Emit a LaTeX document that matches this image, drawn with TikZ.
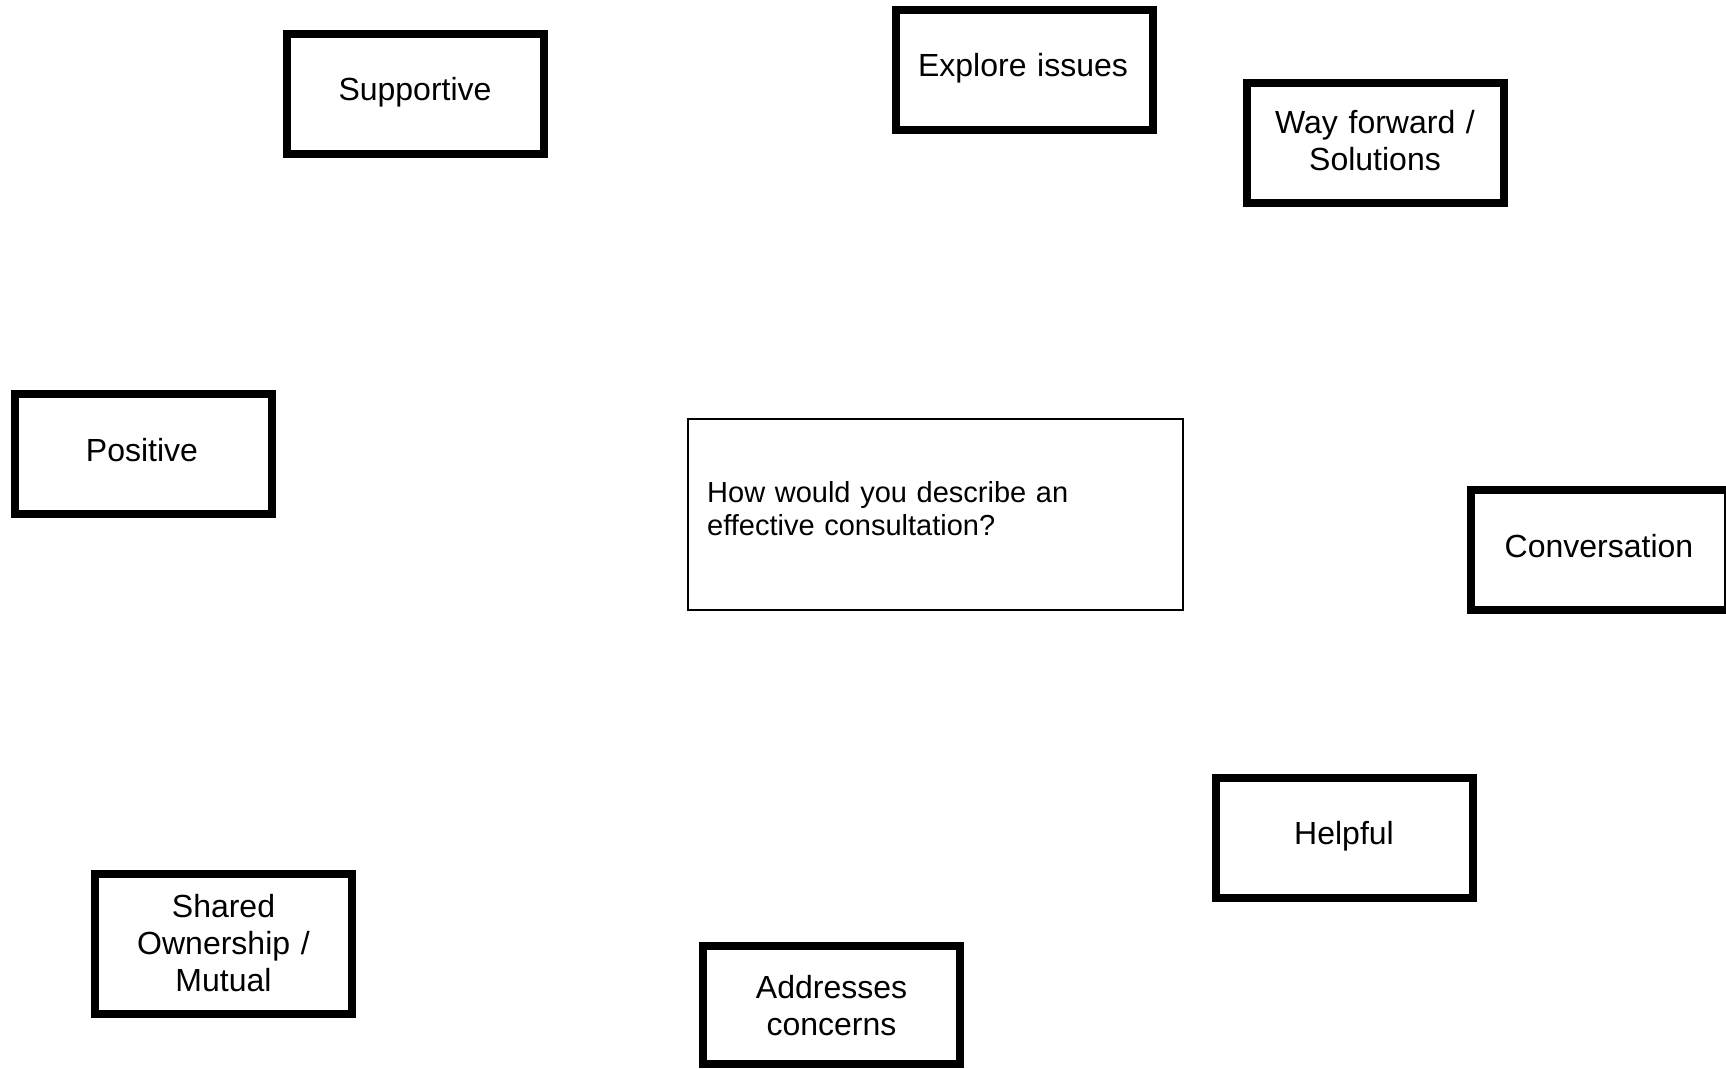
\documentclass[tikz,border=0pt]{standalone}
\usepackage{fontspec}
\setmainfont{Liberation Sans}
\begin{document}
\begin{tikzpicture}[x=1pt,y=-1pt,
  box/.style={draw=black,line width=8pt,fill=white,minimum width=257pt,minimum height=120pt,inner sep=0pt,anchor=center},
  lbl/.style={text width=250pt,align=center,inner sep=0pt,anchor=base,font=\fontsize{32}{37}\selectfont},
  qbox/.style={draw=black,line width=2pt,fill=white,minimum width=495pt,minimum height=191pt,inner sep=0pt,anchor=center},
  qlbl/.style={text width=460pt,align=left,inner sep=0pt,anchor=base west,font=\fontsize{29}{33.5}\selectfont}]
\useasboundingbox (0,0) rectangle (1726,1068);
\fill[white] (0,0) rectangle (1726,1068);
% boxes
\node[box] (sup) at (415,94) {};
\node[box] (exp) at (1024.5,70) {};
\node[box] (way) at (1375.5,142.5) {};
\node[box] (pos) at (143.5,454) {};
\node[qbox] (q) at (935,514.5) {};
\node[box] (con) at (1599.5,550) {};
\node[box] (hel) at (1344,837.5) {};
\node[box,minimum height=140pt] (sha) at (223.5,944) {};
\node[box,minimum height=118pt] (add) at (831.5,1005) {};
% labels
\node[lbl] (supT) at (415,100) {Supportive};
\node[lbl] (expT) at (1023,76) {Explore issues};
\node[lbl] (wayT) at (1375,133) {Way forward /\\Solutions};
\node[lbl] (posT) at (142,461) {Positive};
\node[qlbl] (qT) at (707,502) {How would you describe an\\effective consultation?};
\node[lbl] (conT) at (1599,557) {Conversation};
\node[lbl] (helT) at (1344,844) {Helpful};
\node[lbl] (shaT) at (223.5,917) {Shared\\Ownership /\\Mutual};
\node[lbl] (addT) at (831.5,998) {Addresses\\concerns};
\end{tikzpicture}
\end{document}
